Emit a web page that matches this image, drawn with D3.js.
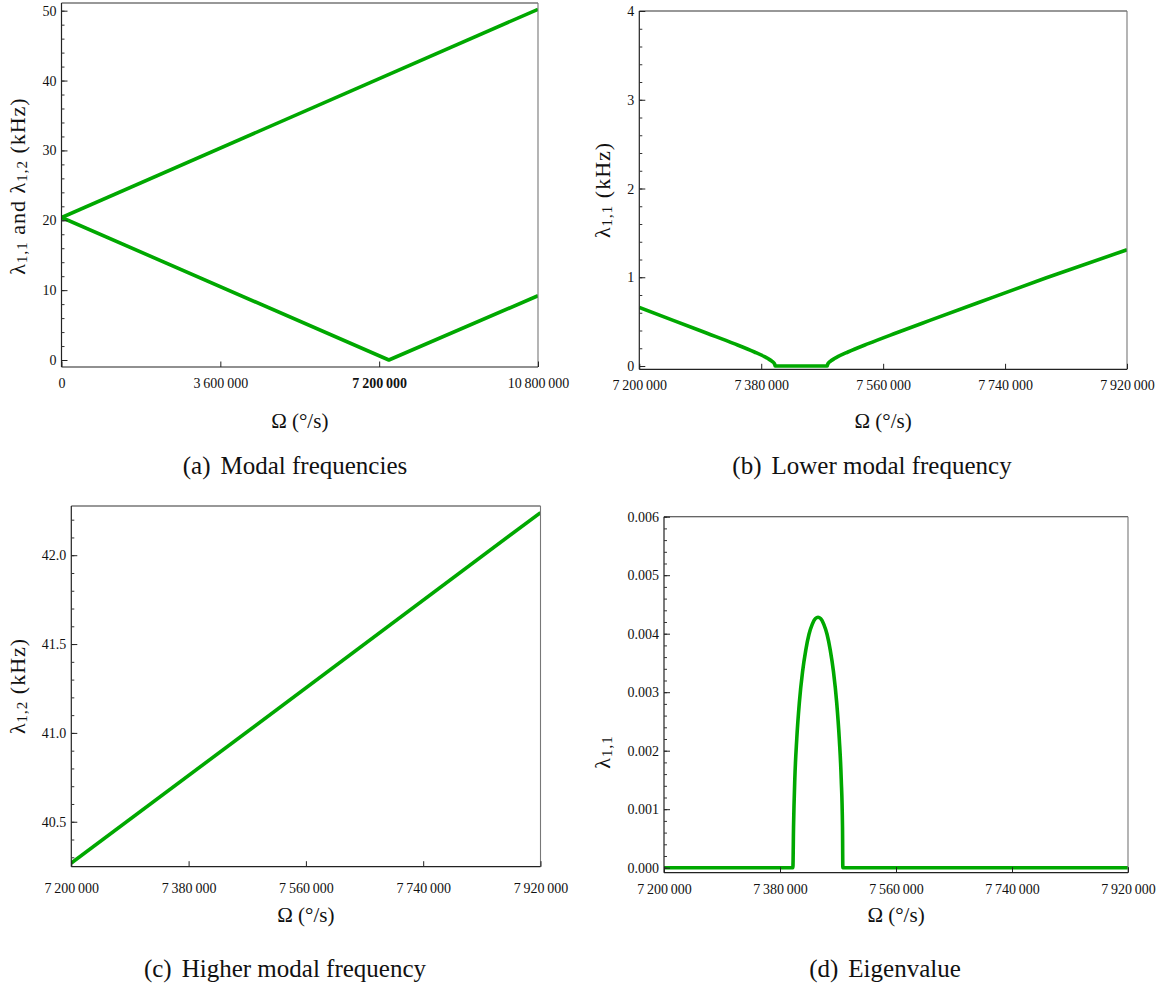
<!DOCTYPE html>
<html>
<head>
<meta charset="utf-8">
<script src="https://cdn.jsdelivr.net/npm/d3@7"></script>
<style>
  body { margin: 0; background: #fff; }
  #fig text { font-family: "Liberation Serif", Tinos, "Times New Roman", Times, "DejaVu Serif", "Noto Serif", serif; fill: #111; }
</style>
</head>
<body>
<svg id="fig" width="1162" height="988"></svg>
<script>
// ---- (a) Modal frequencies over the full speed range ----
const omegaUpperA = [0, 10800000];
const upperA = [20.4, 50.2];
const omegaLowerA = [0, 7420000, 10800000];
const lowerA = [20.4, 0, 9.2];
const xTicksA = [0, 3600000, 7200000, 10800000];
const xLabelsA = ["0", "3\u2009600\u2009000", "7\u2009200\u2009000", "10\u2009800\u2009000"];
const yTicksA = [0, 10, 20, 30, 40, 50];
const yLabelsA = ["0", "10", "20", "30", "40", "50"];

// ---- shared speed ticks for the zoomed panels ----
const xTicksZoom = [7200000, 7380000, 7560000, 7740000, 7920000];
const xLabelsZoom = ["7\u2009200\u2009000", "7\u2009380\u2009000", "7\u2009560\u2009000", "7\u2009740\u2009000", "7\u2009920\u2009000"];

// ---- (b) Lower modal frequency ----
const omegaB = [7200000, 7250000, 7300000, 7340000, 7370000, 7385000, 7390000, 7395000, 7398000, 7400000, 7400500,
                7477500, 7478000, 7480000, 7483000, 7488000, 7493000, 7508000, 7538000, 7578000, 7628000, 7700000, 7800000, 7920000];
const lowerB = [0.66, 0.515, 0.369, 0.252, 0.158, 0.105, 0.084, 0.059, 0.040, 0.018, 0,
                0, 0.018, 0.040, 0.059, 0.084, 0.105, 0.158, 0.252, 0.369, 0.511, 0.713, 0.991, 1.31];
const yTicksB = [0, 1, 2, 3, 4];
const yLabelsB = ["0", "1", "2", "3", "4"];

// ---- (c) Higher modal frequency ----
const omegaC = [7200000, 7920000];
const higherC = [40.267, 42.24];
const yTicksC = [40.5, 41.0, 41.5, 42.0];
const yLabelsC = ["40.5", "41.0", "41.5", "42.0"];

// ---- (d) Eigenvalue (imaginary part inside the unstable band) ----
const omegaD = [7200000, 7400000, 7401000, 7403000, 7406000, 7410000, 7415000, 7420000, 7425000, 7430000, 7435000, 7439000,
                7443000, 7448000, 7453000, 7458000, 7463000, 7468000, 7472000, 7475000, 7477000, 7477500, 7920000];
const eigD = [0, 0, 0.00069, 0.00152, 0.00220, 0.00282, 0.00335, 0.00372, 0.00399, 0.00416, 0.00426, 0.00428,
              0.00426, 0.00416, 0.00399, 0.00372, 0.00335, 0.00282, 0.00220, 0.00152, 0.00069, 0, 0];
const yTicksD = [0, 0.001, 0.002, 0.003, 0.004, 0.005, 0.006];
const yLabelsD = ["0.000", "0.001", "0.002", "0.003", "0.004", "0.005", "0.006"];

const LINE_COLOR = "#00a800";
const SERIF = '"Liberation Serif", Tinos, "Times New Roman", Times, "DejaVu Serif", "Noto Serif", serif';
const svg = d3.select("#fig");

const panels = [
  {
    id: "a", box: { l: 61.5, r: 538, t: 3, b: 367 },
    xDomain: [0, 10800000], yDomain: [-1.0, 51.1], curve: d3.curveLinear,
    xTicks: xTicksA, xLabels: xLabelsA, boldTick: 7200000,
    yTicks: yTicksA, yLabels: yLabelsA, yMinor: d3.range(0, 51, 2),
    series: [[omegaUpperA, upperA], [omegaLowerA, lowerA]],
    xLabelY: 16.5, titleY: 421, captionY: 465, captionX: 295,
    yTitle: { x: 17, cy: 186, parts: [["λ"], ["1,1", "sub"], [" and "], ["λ"], ["1,2", "sub"], [" (kHz)"]] },
    caption: ["(a)", "Modal frequencies"]
  },
  {
    id: "b", box: { l: 639.3, r: 1127, t: 11, b: 369.3 },
    xDomain: [7200000, 7920000], yDomain: [-0.037, 4], curve: d3.curveMonotoneX,
    xTicks: xTicksZoom, xLabels: xLabelsZoom,
    yTicks: yTicksB, yLabels: yLabelsB, yMinor: d3.range(0, 4.01, 0.2),
    series: [[omegaB, lowerB]],
    xLabelY: 16.5, titleY: 421, captionY: 465, captionX: 872,
    yTitle: { x: 602, cy: 190, parts: [["λ"], ["1,1", "sub"], [" (kHz)"]] },
    caption: ["(b)", "Lower modal frequency"]
  },
  {
    id: "c", box: { l: 71.3, r: 540.5, t: 506, b: 866.7 },
    xDomain: [7200000, 7920000], yDomain: [40.247, 42.277], curve: d3.curveLinear,
    xTicks: xTicksZoom, xLabels: xLabelsZoom,
    yTicks: yTicksC, yLabels: yLabelsC, yMinor: d3.range(40.3, 42.25, 0.1),
    series: [[omegaC, higherC]],
    xLabelY: 21.5, titleY: 915, captionY: 968, captionX: 285,
    yTitle: { x: 17, cy: 686, parts: [["λ"], ["1,2", "sub"], [" (kHz)"]] },
    caption: ["(c)", "Higher modal frequency"]
  },
  {
    id: "d", box: { l: 664, r: 1128, t: 516.7, b: 872.7 },
    xDomain: [7200000, 7920000], yDomain: [-0.0000855, 0.006], curve: d3.curveMonotoneX,
    xTicks: xTicksZoom, xLabels: xLabelsZoom,
    yTicks: yTicksD, yLabels: yLabelsD, yMinor: d3.range(0, 0.00601, 0.0002),
    series: [[omegaD, eigD]],
    xLabelY: 16.5, titleY: 915, captionY: 968, captionX: 885,
    yTitle: { x: 602, cy: 752, parts: [["λ"], ["1,1", "sub"]] },
    caption: ["(d)", "Eigenvalue"]
  }
];

function drawPanel(p) {
  const { l, r, t, b } = p.box;
  const g = svg.append("g").attr("class", "panel-" + p.id).attr("font-family", SERIF);
  const x = d3.scaleLinear().domain(p.xDomain).range([l, r]);
  const y = d3.scaleLinear().domain(p.yDomain).range([b, t]);

  // clip the curves to the plot frame
  const clipId = "clip-" + p.id;
  g.append("clipPath").attr("id", clipId)
    .append("rect").attr("x", l).attr("y", t).attr("width", r - l).attr("height", b - t);

  const line = d3.line().curve(p.curve)
    .x(d => x(d[0])).y(d => y(d[1]));
  const plot = g.append("g").attr("clip-path", `url(#${clipId})`);
  p.series.forEach(([xs, ys]) => {
    plot.append("path")
      .datum(xs.map((v, i) => [v, ys[i]]))
      .attr("d", line)
      .attr("fill", "none")
      .attr("stroke", LINE_COLOR)
      .attr("stroke-width", 3.6)
      .attr("stroke-linejoin", "round");
  });

  // frame
  const frame = g.append("g").attr("fill", "none");
  frame.append("line").attr("x1", l).attr("x2", r).attr("y1", t).attr("y2", t).attr("stroke", "#333").attr("stroke-width", 1.1);
  frame.append("line").attr("x1", r).attr("x2", r).attr("y1", t).attr("y2", b).attr("stroke", "#777").attr("stroke-width", 1.1);
  frame.append("line").attr("x1", l).attr("x2", l).attr("y1", t).attr("y2", b).attr("stroke", "#222").attr("stroke-width", 1.2);
  frame.append("line").attr("x1", l).attr("x2", r).attr("y1", b).attr("y2", b).attr("stroke", "#222").attr("stroke-width", 1.2);

  // bottom axis: inward major ticks
  const gx = g.append("g").attr("transform", `translate(0,${b})`)
    .call(d3.axisBottom(x).tickValues(p.xTicks)
      .tickFormat((d, i) => p.xLabels[i]).tickSizeInner(-5.5).tickSizeOuter(0));
  gx.attr("font-family", SERIF);
  gx.select(".domain").remove();
  gx.selectAll(".tick line").attr("stroke", "#222");
  gx.selectAll(".tick text")
    .attr("y", p.xLabelY).attr("dy", null)
    .attr("dominant-baseline", "central")
    .style("font-size", "14px")
    .style("font-weight", d => d === p.boldTick ? "bold" : null);

  // left axis: inward major and minor ticks
  const gyMinor = g.append("g").attr("transform", `translate(${l},0)`)
    .call(d3.axisLeft(y).tickValues(p.yMinor).tickFormat("").tickSizeInner(-3).tickSizeOuter(0));
  gyMinor.select(".domain").remove();
  gyMinor.selectAll(".tick line").attr("stroke", "#333");

  const gy = g.append("g").attr("transform", `translate(${l},0)`)
    .call(d3.axisLeft(y).tickValues(p.yTicks)
      .tickFormat((d, i) => p.yLabels[i]).tickSizeInner(-6).tickSizeOuter(0));
  gy.attr("font-family", SERIF);
  gy.select(".domain").remove();
  gy.selectAll(".tick line").attr("stroke", "#222");
  gy.selectAll(".tick text")
    .attr("x", -5).attr("dy", null)
    .attr("dominant-baseline", "central")
    .style("font-size", "14px");

  // axis title
  g.append("text")
    .attr("x", (l + r) / 2).attr("y", p.titleY)
    .attr("text-anchor", "middle").attr("dominant-baseline", "central")
    .style("font-size", "21px")
    .text("Ω (°/s)");

  // rotated y title with subscripts
  const yt = g.append("text")
    .attr("transform", `translate(${p.yTitle.x},${p.yTitle.cy}) rotate(-90)`)
    .attr("text-anchor", "middle").attr("dominant-baseline", "central")
    .style("font-size", "22px")
    .style("letter-spacing", "1px");
  let shifted = false;
  p.yTitle.parts.forEach(([txt, kind]) => {
    const ts = yt.append("tspan").text(txt);
    if (kind === "sub") {
      ts.attr("dy", 5).style("font-size", "15px");
      shifted = true;
    } else if (shifted) {
      ts.attr("dy", -5);
      shifted = false;
    }
  });

  // caption
  const cap = g.append("text")
    .attr("x", p.captionX).attr("y", p.captionY)
    .attr("text-anchor", "middle").attr("dominant-baseline", "central")
    .style("font-size", "25px");
  cap.append("tspan").text(p.caption[0]);
  cap.append("tspan").attr("dx", 10).text(p.caption[1]);
}

panels.forEach(drawPanel);
</script>
</body>
</html>
